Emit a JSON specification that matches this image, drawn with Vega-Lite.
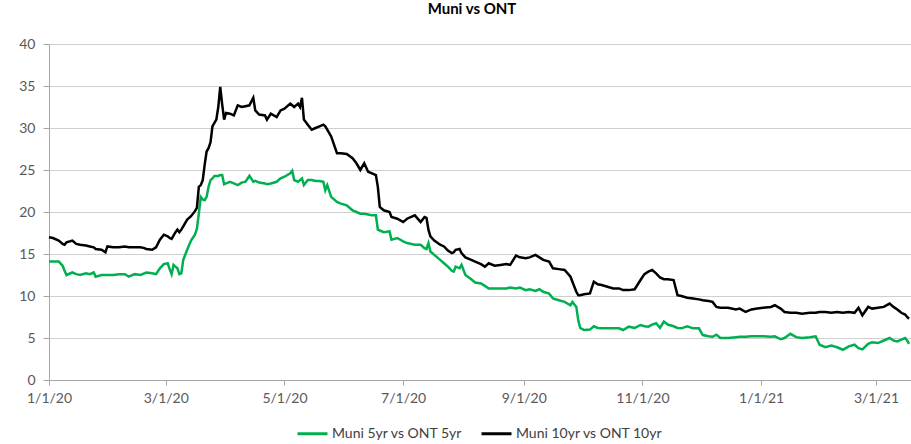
{
  "$schema": "https://vega.github.io/schema/vega-lite/v6.json",
  "width": 862,
  "height": 336,
  "autosize": {"type": "none"},
  "padding": {"left": 49, "top": 44, "right": 0, "bottom": 64},
  "background": "white",
  "title": {"text": "Muni vs ONT", "font": "Lato", "fontSize": 15, "fontWeight": "bold", "color": "#000000", "anchor": "middle", "offset": 20, "dx": -8},
  "config": {
    "view": {"stroke": null},
    "font": "Lato",
    "axis": {"labelFont": "Lato", "labelFontSize": 14, "labelColor": "#595959", "domainColor": "#a6a6a6", "tickColor": "#a6a6a6", "gridColor": "#cfcfcf", "titleFontSize": 0}
  },
  "data": {"values": [
    {"d":"2020-01-01","g":14.1,"b":17.0},{"d":"2020-01-03","g":14.1,"b":16.9},{"d":"2020-01-06","g":14.1,"b":16.6},{"d":"2020-01-08","g":13.6,"b":16.2},{"d":"2020-01-09","g":13.0,"b":16.1},{"d":"2020-01-10","g":12.5,"b":16.4},{"d":"2020-01-13","g":12.8,"b":16.6},{"d":"2020-01-15","g":12.6,"b":16.2},{"d":"2020-01-17","g":12.5,"b":16.1},{"d":"2020-01-20","g":12.7,"b":16.0},{"d":"2020-01-22","g":12.6,"b":15.9},{"d":"2020-01-24","g":12.8,"b":15.8},{"d":"2020-01-25","g":12.3,"b":15.6},{"d":"2020-01-28","g":12.5,"b":15.5},{"d":"2020-01-30","g":12.5,"b":15.2},{"d":"2020-01-31","g":12.5,"b":15.9},
    {"d":"2020-02-03","g":12.5,"b":15.8},{"d":"2020-02-06","g":12.6,"b":15.8},{"d":"2020-02-09","g":12.6,"b":15.9},{"d":"2020-02-11","g":12.3,"b":15.8},{"d":"2020-02-14","g":12.6,"b":15.8},{"d":"2020-02-17","g":12.5,"b":15.8},{"d":"2020-02-19","g":12.7,"b":15.7},{"d":"2020-02-20","g":12.8,"b":15.6},{"d":"2020-02-23","g":12.7,"b":15.5},{"d":"2020-02-25","g":12.6,"b":15.8},{"d":"2020-02-27","g":13.3,"b":16.7},{"d":"2020-02-29","g":13.8,"b":17.3},
    {"d":"2020-03-02","g":13.9,"b":17.1},{"d":"2020-03-03","g":13.2,"b":16.9},{"d":"2020-03-04","g":12.6,"b":16.8},{"d":"2020-03-05","g":13.7,"b":17.2},{"d":"2020-03-06","g":13.5,"b":17.6},{"d":"2020-03-07","g":13.3,"b":17.9},{"d":"2020-03-08","g":12.6,"b":17.6},{"d":"2020-03-09","g":12.7,"b":17.9},{"d":"2020-03-10","g":14.3,"b":18.3},{"d":"2020-03-12","g":15.5,"b":19.1},{"d":"2020-03-14","g":16.6,"b":19.5},{"d":"2020-03-16","g":17.3,"b":20.1},{"d":"2020-03-17","g":18.0,"b":20.5},{"d":"2020-03-18","g":19.8,"b":23.0},{"d":"2020-03-19","g":21.8,"b":23.2},{"d":"2020-03-20","g":21.5,"b":23.8},{"d":"2020-03-21","g":21.4,"b":25.6},{"d":"2020-03-22","g":21.8,"b":27.2},{"d":"2020-03-23","g":23.0,"b":27.6},{"d":"2020-03-24","g":23.8,"b":28.3},{"d":"2020-03-25","g":24.0,"b":30.2},{"d":"2020-03-26","g":24.3,"b":30.6},{"d":"2020-03-27","g":24.3,"b":31.0},{"d":"2020-03-28","g":24.3,"b":32.5},{"d":"2020-03-29","g":24.4,"b":34.9},{"d":"2020-03-30","g":24.4,"b":32.8},{"d":"2020-03-31","g":23.3,"b":31.0},
    {"d":"2020-04-01","g":23.4,"b":31.8},{"d":"2020-04-03","g":23.6,"b":31.7},{"d":"2020-04-05","g":23.4,"b":31.5},{"d":"2020-04-07","g":23.2,"b":32.7},{"d":"2020-04-09","g":23.5,"b":32.5},{"d":"2020-04-11","g":23.6,"b":32.6},{"d":"2020-04-13","g":24.3,"b":32.7},{"d":"2020-04-15","g":23.6,"b":33.6},{"d":"2020-04-16","g":23.7,"b":32.1},{"d":"2020-04-18","g":23.5,"b":31.6},{"d":"2020-04-21","g":23.4,"b":31.5},{"d":"2020-04-22","g":23.3,"b":31.0},{"d":"2020-04-24","g":23.4,"b":31.7},{"d":"2020-04-27","g":23.6,"b":31.3},{"d":"2020-04-29","g":24.0,"b":32.1},
    {"d":"2020-05-01","g":24.2,"b":32.3},{"d":"2020-05-04","g":24.6,"b":32.9},{"d":"2020-05-05","g":24.9,"b":32.7},{"d":"2020-05-06","g":23.8,"b":32.5},{"d":"2020-05-08","g":23.6,"b":32.9},{"d":"2020-05-09","g":23.8,"b":32.5},{"d":"2020-05-10","g":24.0,"b":33.6},{"d":"2020-05-11","g":23.2,"b":31.0},{"d":"2020-05-13","g":23.8,"b":30.4},{"d":"2020-05-15","g":23.8,"b":29.8},{"d":"2020-05-17","g":23.7,"b":30.0},{"d":"2020-05-19","g":23.7,"b":30.2},{"d":"2020-05-21","g":23.6,"b":30.4},{"d":"2020-05-22","g":22.6,"b":30.2},{"d":"2020-05-23","g":23.2,"b":29.8},{"d":"2020-05-25","g":21.8,"b":29.0},{"d":"2020-05-28","g":21.2,"b":27.0},{"d":"2020-05-30","g":21.0,"b":27.0},
    {"d":"2020-06-02","g":20.8,"b":26.9},{"d":"2020-06-05","g":20.2,"b":26.4},{"d":"2020-06-07","g":20.0,"b":25.8},{"d":"2020-06-09","g":19.8,"b":25.0},{"d":"2020-06-11","g":19.8,"b":25.8},{"d":"2020-06-13","g":19.7,"b":24.8},{"d":"2020-06-15","g":19.6,"b":24.6},{"d":"2020-06-17","g":19.6,"b":24.4},{"d":"2020-06-18","g":17.9,"b":23.0},{"d":"2020-06-19","g":17.8,"b":20.6},{"d":"2020-06-21","g":17.6,"b":20.2},{"d":"2020-06-24","g":17.7,"b":20.0},{"d":"2020-06-25","g":16.7,"b":19.4},{"d":"2020-06-28","g":16.9,"b":19.2},
    {"d":"2020-07-01","g":16.5,"b":18.8},{"d":"2020-07-03","g":16.3,"b":19.2},{"d":"2020-07-07","g":16.1,"b":19.6},{"d":"2020-07-10","g":16.1,"b":18.8},{"d":"2020-07-12","g":15.7,"b":19.4},{"d":"2020-07-13","g":15.6,"b":19.3},{"d":"2020-07-14","g":16.3,"b":17.9},{"d":"2020-07-15","g":15.3,"b":17.1},{"d":"2020-07-17","g":14.9,"b":16.6},{"d":"2020-07-20","g":14.3,"b":16.1},{"d":"2020-07-22","g":13.9,"b":15.9},{"d":"2020-07-24","g":13.5,"b":15.4},{"d":"2020-07-26","g":13.0,"b":15.1},{"d":"2020-07-27","g":12.9,"b":15.2},{"d":"2020-07-28","g":13.5,"b":15.5},{"d":"2020-07-30","g":13.3,"b":15.6},{"d":"2020-07-31","g":13.7,"b":15.1},
    {"d":"2020-08-02","g":12.5,"b":14.6},{"d":"2020-08-05","g":12.0,"b":14.3},{"d":"2020-08-07","g":11.6,"b":14.1},{"d":"2020-08-10","g":11.5,"b":13.8},{"d":"2020-08-12","g":11.2,"b":13.5},{"d":"2020-08-14","g":10.9,"b":13.9},{"d":"2020-08-17","g":10.9,"b":13.6},{"d":"2020-08-20","g":10.9,"b":13.7},{"d":"2020-08-23","g":10.9,"b":13.8},{"d":"2020-08-25","g":11.0,"b":13.7},{"d":"2020-08-28","g":10.9,"b":14.8},{"d":"2020-08-30","g":11.0,"b":14.6},
    {"d":"2020-09-02","g":10.7,"b":14.5},{"d":"2020-09-04","g":10.8,"b":14.6},{"d":"2020-09-07","g":10.6,"b":14.9},{"d":"2020-09-09","g":10.8,"b":14.6},{"d":"2020-09-11","g":10.5,"b":14.3},{"d":"2020-09-14","g":10.3,"b":14.1},{"d":"2020-09-16","g":9.7,"b":13.3},{"d":"2020-09-19","g":9.5,"b":13.2},{"d":"2020-09-22","g":9.3,"b":13.1},{"d":"2020-09-25","g":8.9,"b":12.3},{"d":"2020-09-26","g":9.3,"b":11.7},{"d":"2020-09-28","g":8.7,"b":10.5},{"d":"2020-09-29","g":7.1,"b":10.1},{"d":"2020-09-30","g":6.2,"b":10.1},
    {"d":"2020-10-02","g":5.95,"b":10.2},{"d":"2020-10-05","g":6.0,"b":10.3},{"d":"2020-10-07","g":6.4,"b":11.7},{"d":"2020-10-09","g":6.2,"b":11.4},{"d":"2020-10-11","g":6.15,"b":11.3},{"d":"2020-10-14","g":6.15,"b":11.1},{"d":"2020-10-17","g":6.15,"b":10.9},{"d":"2020-10-20","g":6.15,"b":10.9},{"d":"2020-10-22","g":5.95,"b":10.7},{"d":"2020-10-25","g":6.35,"b":10.7},{"d":"2020-10-28","g":6.2,"b":10.8},{"d":"2020-10-31","g":6.55,"b":11.9},
    {"d":"2020-11-02","g":6.4,"b":12.6},{"d":"2020-11-04","g":6.35,"b":12.9},{"d":"2020-11-06","g":6.6,"b":13.1},{"d":"2020-11-08","g":6.75,"b":12.7},{"d":"2020-11-10","g":6.2,"b":12.2},{"d":"2020-11-12","g":6.95,"b":12.0},{"d":"2020-11-14","g":6.6,"b":12.0},{"d":"2020-11-17","g":6.4,"b":11.9},{"d":"2020-11-19","g":6.2,"b":10.1},{"d":"2020-11-21","g":6.15,"b":10.0},{"d":"2020-11-24","g":6.4,"b":9.8},{"d":"2020-11-27","g":6.15,"b":9.7},{"d":"2020-11-30","g":6.15,"b":9.6},
    {"d":"2020-12-02","g":5.35,"b":9.5},{"d":"2020-12-05","g":5.2,"b":9.4},{"d":"2020-12-07","g":5.15,"b":9.3},{"d":"2020-12-09","g":5.4,"b":8.7},{"d":"2020-12-11","g":5.0,"b":8.6},{"d":"2020-12-15","g":5.0,"b":8.6},{"d":"2020-12-19","g":5.1,"b":8.4},{"d":"2020-12-21","g":5.15,"b":8.5},{"d":"2020-12-24","g":5.15,"b":8.1},{"d":"2020-12-27","g":5.2,"b":8.4},{"d":"2020-12-30","g":5.2,"b":8.5},
    {"d":"2021-01-02","g":5.2,"b":8.6},{"d":"2021-01-06","g":5.15,"b":8.7},{"d":"2021-01-08","g":5.2,"b":8.9},{"d":"2021-01-11","g":4.85,"b":8.5},{"d":"2021-01-13","g":5.0,"b":8.1},{"d":"2021-01-16","g":5.5,"b":8.0},{"d":"2021-01-19","g":5.1,"b":8.0},{"d":"2021-01-22","g":5.0,"b":7.9},{"d":"2021-01-26","g":5.1,"b":8.0},{"d":"2021-01-29","g":5.2,"b":8.0},{"d":"2021-01-31","g":4.2,"b":8.1},
    {"d":"2021-02-03","g":3.9,"b":8.1},{"d":"2021-02-06","g":4.1,"b":8.0},{"d":"2021-02-09","g":3.9,"b":8.1},{"d":"2021-02-12","g":3.6,"b":8.0},{"d":"2021-02-15","g":4.0,"b":8.1},{"d":"2021-02-18","g":4.2,"b":8.0},{"d":"2021-02-20","g":3.8,"b":8.6},{"d":"2021-02-22","g":3.65,"b":7.7},{"d":"2021-02-25","g":4.3,"b":8.7},{"d":"2021-02-27","g":4.5,"b":8.5},
    {"d":"2021-03-02","g":4.4,"b":8.6},{"d":"2021-03-05","g":4.7,"b":8.7},{"d":"2021-03-08","g":5.0,"b":9.1},{"d":"2021-03-10","g":4.7,"b":8.7},{"d":"2021-03-12","g":4.6,"b":8.4},{"d":"2021-03-14","g":4.8,"b":8.0},{"d":"2021-03-16","g":5.0,"b":7.8},{"d":"2021-03-17","g":4.7,"b":7.5},{"d":"2021-03-18","g":4.3,"b":7.3}
  ]},
  "transform": [{"fold": ["g", "b"], "as": ["k", "v"]}],
  "mark": {"type": "line", "strokeWidth": 2.5, "interpolate": "linear"},
  "encoding": {
    "x": {
      "field": "d", "type": "temporal",
      "scale": {"type": "utc", "domain": [{"year": 2020, "month": 1, "date": 1, "utc": true}, {"year": 2021, "month": 3, "date": 19, "utc": true}]},
      "axis": {
        "title": null, "grid": false,
        "labelExpr": "utcFormat(datum.value, '%-m/%-d/%y')",
        "values": [
          {"year": 2020, "month": 1, "date": 1, "utc": true},
          {"year": 2020, "month": 3, "date": 1, "utc": true},
          {"year": 2020, "month": 5, "date": 1, "utc": true},
          {"year": 2020, "month": 7, "date": 1, "utc": true},
          {"year": 2020, "month": 9, "date": 1, "utc": true},
          {"year": 2020, "month": 11, "date": 1, "utc": true},
          {"year": 2021, "month": 1, "date": 1, "utc": true},
          {"year": 2021, "month": 3, "date": 1, "utc": true}
        ],
        "tickSize": 5, "labelPadding": 6, "labelOverlap": false, "labelFlush": false
      }
    },
    "y": {
      "field": "v", "type": "quantitative",
      "scale": {"domain": [0, 40], "nice": false},
      "axis": {"title": null, "values": [0, 5, 10, 15, 20, 25, 30, 35, 40], "tickSize": 6, "labelPadding": 8, "grid": true}
    },
    "color": {
      "field": "k", "type": "nominal",
      "scale": {"domain": ["g", "b"], "range": ["#00B050", "#000000"]},
      "legend": {
        "title": null, "orient": "none", "direction": "horizontal", "legendX": 247, "legendY": 373,
        "symbolType": "stroke", "symbolSize": 900, "symbolStrokeWidth": 3,
        "labelFont": "Lato", "labelFontSize": 14, "labelColor": "#404040", "labelOffset": 3, "columnPadding": 12, "padding": 0,
        "labelExpr": "datum.value == 'g' ? 'Muni 5yr vs ONT 5yr' : 'Muni 10yr vs ONT 10yr'"
      }
    }
  }
}
